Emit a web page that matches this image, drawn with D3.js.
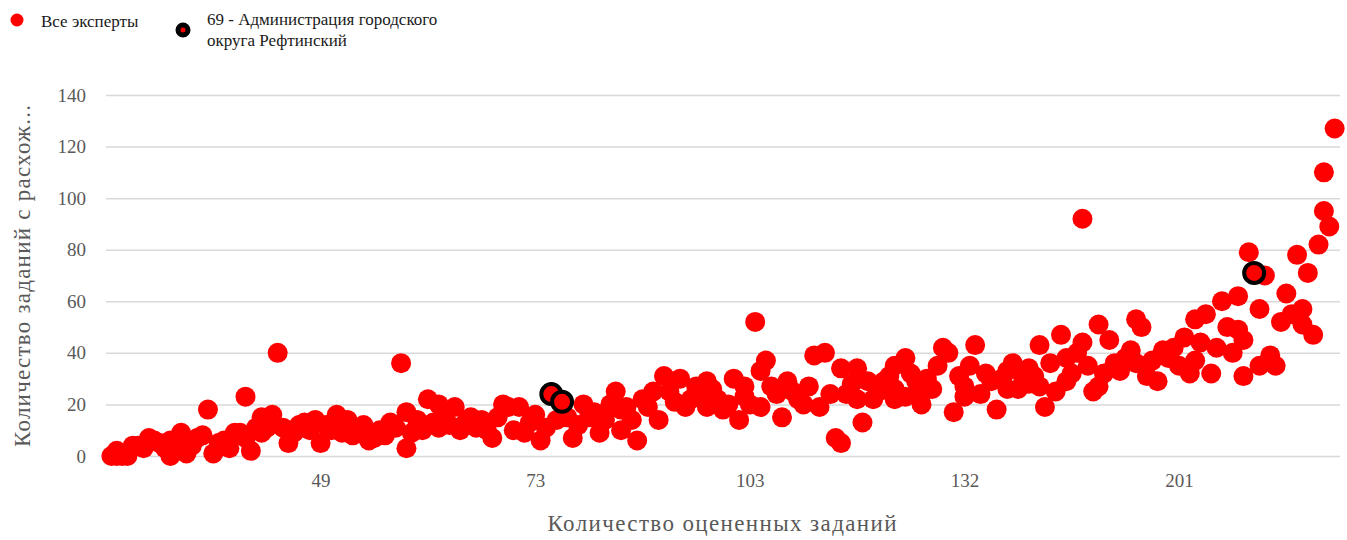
<!DOCTYPE html>
<html>
<head>
<meta charset="utf-8">
<script src="https://cdn.jsdelivr.net/npm/d3@7"></script>
<style>
  body { margin: 0; background: #fff; }
  svg { display: block; font-family: "Liberation Serif", "Times New Roman", serif; }
</style>
</head>
<body>
<svg id="chart" width="1347" height="540"></svg>
<script>
// category position (index along the category axis) and value for every expert
var allX = [1,2,3,4,5,6,8,10,11,12,12,13,14,15,17,18,19,20,22,23,24,25,26,27,28,29,29,31,32,33,34,36,37,
  39,40,42,43,45,46,47,49,50,51,53,55,56,56,59,60,62,62,64,65,66,68,70,72,74,
  75,76,77,78,79,80,81,82,86,87,89,90,92,93,95,96,96,98,99,100,103,104,107,108,109,110,112,112,
  114,115,116,117,118,119,119,121,122,122,123,124,126,127,129,131,132,133,134,136,137,137,138,140,140,141,142,143,145,147,147,147,149,149,
  151,152,152,154,155,156,157,158,160,160,161,162,163,165,166,168,168,169,170,172,172,174,174,175,176,177,178,179,179,180,182,182,184,185,185,186,187,
  188,191,192,192,193,194,196,197,199,200,201,202,203,203,204,205,206,208,209,210,211,212,211,212,213,215,216,215,217,218,219,220,222,223,223,224,225,226,227,227,228,229,
  2,7,9,16,21,26,30,35,38,41,44,48,52,54,57,58,61,63,67,69,71,73,84,88,91,94,97,101,102,105,106,111,113,
  120,125,128,130,135,139,144,146,150,153,159,164,167,171,173,181,183,189,190,195,198,207,221];
var allY = [0,0,0,0,4,4,7,5,3,6,0,3,9,1,7,8,18,1,6,3,9,9,23,2,11,15,9,16,40,11,5,12,13,
  14,5,10,16,14,8,11,6,7,10,13,36,3,17,10,22,11,20,12,19,10,15,14,7,20,
  19,10,19,9,13,16,6,11,15,7,20,15,9,14,25,18,10,14,6,22,14,31,30,19,22,27,29,19,
  22,18,20,30,14,27,23,52,33,19,37,27,15,29,22,27,39,19,40,7,5,34,24,34,22,13,29,22,29,26,35,22,38,23,
  29,20,24,26,35,42,40,17,27,23,35,43,24,29,18,33,26,36,26,34,28,27,43,19,36,25,47,38,29,32,92,44,25,51,27,32,45,
  36,41,36,53,50,31,29,41,42,35,46,32,37,53,44,55,32,60,50,40,49,45,62,31,79,57,70,35,39,35,52,63,78,57,51,71,47,82,95,110,89,127,
  2,3,6,4,5,7,11,9,10,12,9,12,8,11,9,14,13,17,13,11,10,15,14,12,17,20,19,19,25,25,21,23,26,
  20,24,25,20,24,28,25,31,32,30,31,32,30,30,31,40,35,33,38,37,38,42,55];

// highlighted expert 69
var expertX = [83, 85, 214];
var expertY = [24, 21, 71];

var yTicks = [0, 20, 40, 60, 80, 100, 120, 140];
var xTickPos = [40, 80, 120, 160, 200];
var xTickLabels = ["49", "73", "103", "132", "201"];

var legendNames = ["Все эксперты", "69 - Администрация городского", "округа Рефтинский"];

var svg = d3.select("#chart");

var x = d3.scaleLinear().domain([0, 230]).range([106, 1340]);
var y = d3.scaleLinear().domain([0, 140]).range([456, 95]);

// horizontal grid
svg.append("g")
    .attr("transform", "translate(106,0)")
    .call(d3.axisLeft(y).tickValues(yTicks).tickSize(-1234).tickFormat(""))
    .call(function(g){
        g.select(".domain").remove();
        g.selectAll("line").attr("stroke", "#d9d9d9").attr("stroke-width", 1.5);
    });

// y labels
svg.append("g")
    .attr("transform", "translate(86,0)")
    .call(d3.axisLeft(y).tickValues(yTicks).tickSize(0).tickPadding(0))
    .call(function(g){
        g.select(".domain").remove();
        g.selectAll("text")
            .attr("font-size", "19px")
            .attr("font-family", "Liberation Serif")
            .attr("fill", "#595959");
    });

// x labels
svg.append("g")
    .attr("transform", "translate(0,470)")
    .call(d3.axisBottom(x).tickValues(xTickPos).tickSize(0).tickPadding(4)
        .tickFormat(function(d, i){ return xTickLabels[i]; }))
    .call(function(g){
        g.select(".domain").remove();
        g.selectAll("text")
            .attr("font-size", "19px")
            .attr("font-family", "Liberation Serif")
            .attr("fill", "#595959");
    });

// axis titles
svg.append("text")
    .attr("x", 722).attr("y", 531)
    .attr("text-anchor", "middle")
    .attr("font-size", "23px")
    .attr("fill", "#595959")
    .attr("textLength", 349)
    .text("Количество оцененных заданий");

svg.append("text")
    .attr("transform", "translate(30,276) rotate(-90)")
    .attr("text-anchor", "middle")
    .attr("font-size", "23px")
    .attr("fill", "#595959")
    .attr("textLength", 342)
    .text("Количество заданий с расхож...");

// all experts
svg.append("g").selectAll("circle")
    .data(allX)
    .join("circle")
    .attr("cx", function(d){ return x(d); })
    .attr("cy", function(d, i){ return y(allY[i]); })
    .attr("r", 10)
    .attr("fill", "#ff0000");

// selected expert
svg.append("g").selectAll("circle")
    .data(expertX)
    .join("circle")
    .attr("cx", function(d){ return x(d); })
    .attr("cy", function(d, i){ return y(expertY[i]); })
    .attr("r", 10)
    .attr("fill", "#ff0000")
    .attr("stroke", "#000")
    .attr("stroke-width", 4);

// legend
var legend = svg.append("g").attr("font-size", "17px").attr("fill", "#1a1a1a");
legend.append("circle").attr("cx", 17).attr("cy", 20).attr("r", 6.5).attr("fill", "#ff0000");
legend.append("text").attr("x", 41).attr("y", 27).text(legendNames[0]);
legend.append("circle").attr("cx", 183).attr("cy", 30).attr("r", 5).attr("fill", "#ff0000")
    .attr("stroke", "#000").attr("stroke-width", 5);
legend.append("text").attr("x", 207).attr("y", 25).text(legendNames[1]);
legend.append("text").attr("x", 207).attr("y", 46).text(legendNames[2]);
</script>
</body>
</html>
